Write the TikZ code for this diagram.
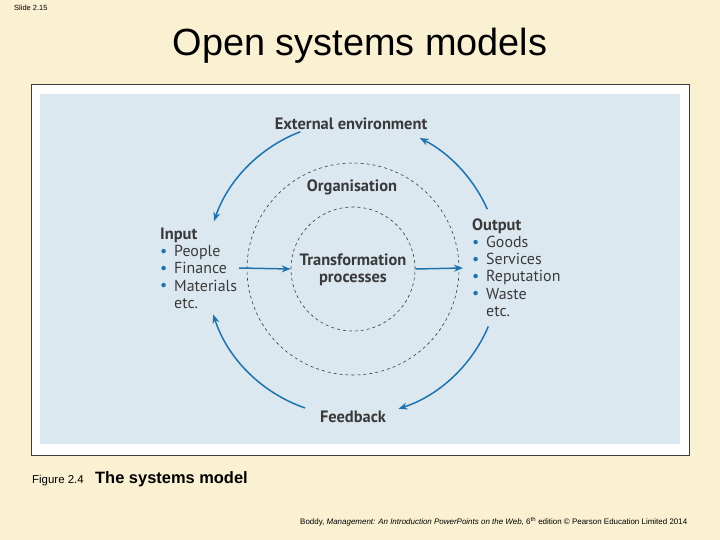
\documentclass[tikz,border=0pt]{standalone}
\usepackage{fontspec}
\setmainfont{Liberation Sans}
\newfontfamily\dinfont{PT Sans}
\usetikzlibrary{arrows.meta}
\definecolor{cream}{HTML}{FAF0D2}
\definecolor{panel}{HTML}{DCE8F0}
\definecolor{arrblue}{HTML}{1E73AF}
\definecolor{ink}{HTML}{3A3A3A}
\definecolor{frame}{HTML}{3C3C3C}
\tikzset{
  lbl/.style={font=\dinfont\bfseries\fontsize{16.5}{17}\selectfont, text=ink, inner sep=0pt},
  item/.style={font=\dinfont\fontsize{16}{17}\selectfont, text=ink, inner sep=0pt, anchor=base west},
  ring/.style={circle, draw=ink, line width=0.6bp, dash pattern=on 3bp off 3bp, inner sep=0pt},
  flow/.style={draw=arrblue, line width=1.5bp, -{Stealth[length=9bp,width=7bp]}},
}
\newcommand{\bul}{\makebox[14bp][l]{\textcolor{arrblue}{\raisebox{0.5bp}{•}}}}
\begin{document}
\begin{tikzpicture}[x=1bp,y=-1bp]
\useasboundingbox (0,0) rectangle (720,540);
\fill[cream] (0,0) rectangle (720,540);
\node[anchor=west, inner sep=0pt, font=\fontsize{7.5}{9}\selectfont] (slide) at (14,8) {Slide 2.15};
\node[inner sep=0pt, font=\fontsize{38}{40}\selectfont] (title) at (360,46) {Open systems models};
\draw[frame, fill=white, line width=1bp] (31,85) rectangle (689,455);
\fill[panel] (40,94) rectangle (680,444);
\coordinate (c) at (353,269);
\node[ring, minimum size=212bp] (org) at (c) {};
\node[ring, minimum size=124bp] (inner) at (c) {};
\node[lbl] (ext) at (351,124) {External environment};
\node[lbl] (orgl) at (352,187) {Organisation};
\node[lbl, align=center] (tp) at (353,270) {Transformation\\processes};
\node[lbl] (fb) at (353,417) {Feedback};
% input
\node[item, font=\dinfont\bfseries\fontsize{16.5}{17}\selectfont] (in0) at (160,240) {Input};
\node[item] (in1) at (160,257) {\bul People};
\node[item] (in2) at (160,274) {\bul Finance};
\node[item] (in3) at (160,291) {\bul Materials};
\node[item] (in4) at (160,308) {\hspace{14bp}etc.};
% output
\node[item, font=\dinfont\bfseries\fontsize{16.5}{17}\selectfont] (out0) at (472,231) {Output};
\node[item] (out1) at (472,248) {\bul Goods};
\node[item] (out2) at (472,265) {\bul Services};
\node[item] (out3) at (472,282) {\bul Reputation};
\node[item] (out4) at (472,299) {\bul Waste};
\node[item] (out5) at (472,316) {\hspace{14bp}etc.};
% straight arrows
\coordinate (ls) at (239,268);
\coordinate (re) at (463,268);
\draw[flow] (ls) -- (inner.west);
\draw[flow] (inner.east) -- (re);
% arcs
\draw[flow] (c) ++(-111:147) arc[start angle=-111, end angle=-161, radius=147];
\draw[flow] (c) ++(-24:147) arc[start angle=-24, end angle=-63, radius=147];
\draw[flow] (c) ++(109:147) arc[start angle=109, end angle=162, radius=147];
\draw[flow] (c) ++(23:147) arc[start angle=23, end angle=72, radius=147];
% captions
\node[anchor=west, inner sep=0pt, font=\fontsize{11.5}{13}\selectfont] (fig) at (32,481) {Figure 2.4};
\node[anchor=west, inner sep=0pt, font=\bfseries\fontsize{16.5}{18}\selectfont] (cap) at (95,479) {The systems model};
\node[anchor=west, inner sep=0pt, font=\fontsize{8}{9}\selectfont] (foot) at (300,522) {Boddy, \textit{Management: An Introduction PowerPoints on the Web}, 6\textsuperscript{th} edition © Pearson Education Limited 2014};
\end{tikzpicture}
\end{document}
